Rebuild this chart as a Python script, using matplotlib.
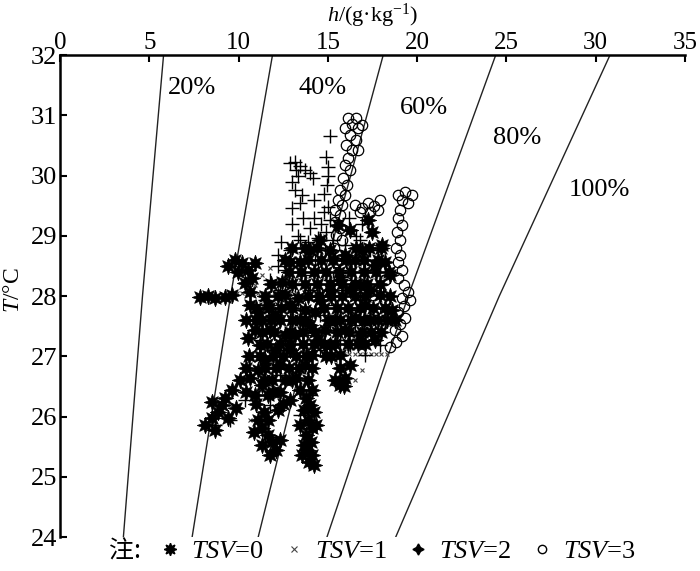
import matplotlib
matplotlib.use("Agg")
import matplotlib.pyplot as plt
from matplotlib.lines import Line2D

plt.rcParams['font.family'] = ['Liberation Serif', 'Noto Sans CJK SC']
plt.rcParams['mathtext.fontset'] = 'custom'
plt.rcParams['mathtext.rm'] = 'Liberation Serif'
plt.rcParams['mathtext.it'] = 'Liberation Serif:italic'

# relative humidity lines: h (g/kg) at T = 24, 28, 32 C
rh_T = [24, 28, 32]
rh_labels = ['20%', '40%', '60%', '80%', '100%']
rh_h = [
    [3.55, 4.62, 5.80],
    [7.40, 9.55, 11.90],
    [11.10, 14.45, 18.10],
    [14.95, 19.50, 24.40],
    [18.80, 24.60, 30.80],
]
rh_label_pos = [(7.4, 31.45), (14.7, 31.45), (20.4, 31.12), (25.6, 30.62), (30.2, 29.76)]

# TSV=0
h0 = [7.84, 8.29, 8.68, 9.24, 9.63,
      10.19, 9.97, 10.53, 10.36, 10.75, 10.64, 9.40, 9.80, 10.90,
      10.64, 11.09, 11.31, 10.92, 10.53, 11.20, 11.76, 12.04, 11.65, 12.32, 12.60, 12.04,
      11.48, 11.09, 10.64, 11.31, 10.92, 11.65, 11.87, 12.32, 12.88, 13.16, 13.44, 12.88,
      12.60, 13.33, 13.72, 14.00, 14.45, 14.11, 13.72, 13.21, 13.44, 12.88, 12.21,
      14.56, 15.12, 15.68, 16.24, 16.80, 17.36, 17.92, 17.08, 16.52, 15.96, 15.40, 14.84,
      14.28, 15.12, 15.68, 16.24, 15.96, 15.68, 17.36, 17.64, 16.80,
      14.56, 15.12, 15.96, 16.52, 16.91, 17.64, 18.20, 16.24, 15.57, 14.00, 13.44, 12.88,
      12.43, 17.47, 17.25, 18.03, 18.48, 18.59, 18.76,
      10.08, 9.63, 9.24, 9.07, 8.85, 8.51, 8.12, 8.68, 9.41, 9.85, 8.51,
      11.09, 11.31, 11.65, 11.87, 12.09, 11.76, 11.31, 10.86, 11.65, 12.32, 11.42,
      13.89, 14.11, 13.77, 14.00, 14.22, 13.89, 14.11, 13.77, 14.05, 13.83, 14.11, 13.94,
      13.66, 14.33, 13.66, 13.44, 13.55, 14.22,
      13.0, 13.7, 14.4, 16.6, 17.3, 18.0,
      12.6, 13.9, 14.6, 15.3, 16.0, 17.0, 17.8,
      12.8, 13.5, 14.2, 14.9, 15.6, 16.3, 17.0, 17.7, 18.4,
      11.8, 13.0, 13.7, 14.4, 15.1, 15.8, 16.5, 17.2, 17.9,
      11.5, 12.2, 13.9, 14.5, 15.2, 15.8, 16.5, 17.1, 18.5,
      11.0, 11.7, 12.4, 13.0, 14.8, 15.5, 16.1, 16.8, 17.5, 18.2,
      10.4, 11.0, 11.8, 13.0, 13.7, 15.0, 15.7, 16.3, 17.0, 17.8, 18.3,
      11.3, 12.0, 12.9, 13.6, 14.3, 15.5, 16.2, 16.9, 17.4, 18.0,
      11.6, 12.3, 12.9, 13.6, 14.2, 14.8, 15.4, 16.1, 16.7, 17.1,
      10.6, 11.2, 11.9, 12.5, 13.2, 13.8, 14.9, 15.2,
      10.4, 11.5, 12.1, 12.8, 13.4, 14.1, 15.7,
      11.4, 12.6, 13.0, 15.4, 15.9,
      10.4, 11.9, 12.3,
      11.0, 12.5]
t0 = [27.98, 28.00, 27.97, 27.98, 28.02,
      28.55, 28.40, 28.43, 28.22, 28.30, 28.07, 28.50, 28.60, 28.55,
      27.85, 27.73, 27.60, 27.44, 27.30, 27.19, 27.44, 27.68, 27.85, 27.60, 27.35, 27.10,
      26.94, 26.77, 26.64, 26.52, 26.36, 26.36, 26.61, 26.85, 27.10, 27.35, 27.60, 27.85,
      28.02, 27.97, 27.77, 27.52, 27.27, 27.02, 26.85, 26.64, 26.44, 26.27, 26.11,
      27.93, 28.10, 28.27, 28.10, 28.18, 28.10, 28.02, 27.85, 27.63, 27.44, 27.60, 27.44,
      27.73, 27.19, 27.02, 26.85, 26.64, 26.52, 27.60, 27.27, 27.35,
      28.93, 28.76, 28.68, 28.60, 28.76, 28.51, 28.56, 29.10, 29.18, 28.76, 28.56, 28.56,
      28.23, 29.06, 29.26, 28.85, 28.35, 27.77, 27.60,
      26.61, 26.44, 26.31, 26.19, 26.07, 25.98, 25.86, 25.78, 25.98, 26.14, 26.24,
      25.94, 25.81, 25.69, 25.58, 25.44, 25.36, 25.53, 25.74, 25.94, 25.61, 26.07,
      26.61, 26.44, 26.31, 26.19, 26.07, 25.94, 25.81, 25.69, 25.58, 25.44, 25.36, 25.24,
      25.53, 25.86, 26.11, 25.86, 25.36, 25.20,
      28.8, 28.8, 28.8, 28.8, 28.8, 28.8,
      28.6, 28.6, 28.6, 28.6, 28.6, 28.6, 28.6,
      28.4, 28.4, 28.4, 28.4, 28.4, 28.4, 28.4, 28.4, 28.4,
      28.2, 28.2, 28.2, 28.2, 28.2, 28.2, 28.2, 28.2, 28.2,
      28.0, 28.0, 28.0, 28.0, 28.0, 28.0, 28.0, 28.0, 28.0,
      27.8, 27.8, 27.8, 27.8, 27.8, 27.8, 27.8, 27.8, 27.8, 27.8,
      27.6, 27.6, 27.6, 27.6, 27.6, 27.6, 27.6, 27.6, 27.6, 27.6, 27.6,
      27.4, 27.4, 27.4, 27.4, 27.4, 27.4, 27.4, 27.4, 27.4, 27.4,
      27.2, 27.2, 27.2, 27.2, 27.2, 27.2, 27.2, 27.2, 27.2, 27.2,
      27.0, 27.0, 27.0, 27.0, 27.0, 27.0, 27.0, 27.0,
      26.8, 26.8, 26.8, 26.8, 26.8, 26.8, 26.8,
      26.6, 26.6, 26.6, 26.6, 26.5,
      26.4, 26.4, 26.4,
      26.2, 26.2]

# TSV=1
h1 = [9.90, 10.20, 10.50, 10.80, 11.10, 11.40, 11.70, 12.00, 12.30, 12.60, 12.90, 13.20,
      14.70, 15.00, 15.30, 15.60, 15.90, 16.20, 16.50, 16.80, 17.10, 17.40, 17.70, 18.00, 18.30,
      11.76, 11.31, 10.92, 15.12, 16.80, 15.96, 13.44, 14.56, 17.92, 17.36, 18.48,
      10.64, 9.52, 16.52, 16.91, 14.39, 14.84]
t1 = [28.05, 28.05, 28.05, 28.05, 28.05, 28.05, 28.05, 28.05, 28.05, 28.05, 28.05, 28.05,
      27.03, 27.03, 27.03, 27.03, 27.03, 27.03, 27.03, 27.03, 27.03, 27.03, 27.03, 27.03, 27.03,
      28.46, 28.35, 28.18, 27.93, 27.77, 27.60, 28.27, 28.43, 27.93, 27.44, 27.60,
      25.94, 26.19, 26.61, 26.77, 28.96, 28.99]

# TSV=2
h2 = [15.12, 13.16, 13.44, 13.72, 14.00, 13.33, 14.17, 15.01, 14.95, 13.16, 13.55, 12.99,
      13.44, 15.01, 15.12, 14.89, 15.29, 14.45, 14.00, 13.44, 12.88, 13.72, 14.28, 14.84,
      15.40, 15.96, 16.24, 15.68, 15.12, 14.45, 13.72, 13.16, 12.60, 12.32, 14.00, 14.67,
      15.96, 16.52, 16.80, 16.24, 15.40, 14.56, 13.44, 12.88, 17.08, 17.36, 16.80, 12.21,
      11.76, 11.48, 15.12, 15.68, 14.28, 16.52, 16.24, 14.56, 13.55, 12.60, 17.47, 17.92,
      17.08, 10.36, 8.68, 11.48, 14.00, 13.44, 12.32, 11.20, 11.76, 9.52, 11.76,
      13.0, 13.6, 14.2, 14.6, 13.3, 13.9, 14.8, 16.2, 16.6, 17.0, 12.4, 12.2, 16.9,
      14.2, 14.8, 15.0, 14.9, 13.0, 13.2, 12.9]
t2 = [30.66, 30.22, 30.16, 30.09, 30.04, 30.00, 29.96, 30.14, 29.84, 29.76, 29.68, 29.46,
      29.54, 29.48, 29.26, 29.06, 28.93, 28.96, 29.13, 28.93, 28.76, 28.73, 28.60, 28.76,
      28.63, 28.85, 28.56, 28.43, 28.27, 28.43, 28.35, 28.18, 28.43, 28.10, 28.10, 28.02,
      28.10, 28.27, 27.93, 27.77, 27.85, 27.68, 27.77, 27.60, 28.43, 28.76, 28.93, 28.68,
      28.27, 27.93, 27.52, 27.27, 27.35, 27.52, 27.19, 27.10, 27.44, 27.27, 27.35, 27.19,
      27.02, 26.27, 25.86, 25.53, 26.36, 26.02, 26.69, 27.27, 26.19, 25.94, 25.66,
      29.2, 29.3, 29.3, 29.2, 29.0, 28.9, 29.4, 29.3, 29.0, 28.6, 28.9, 28.5, 29.2,
      29.6, 29.7, 30.0, 30.3, 29.9, 30.1, 30.2]

# TSV=3
h3 = [16.13, 16.57, 16.35, 15.96, 16.69, 16.24, 16.57, 16.01, 16.35, 16.69, 16.13, 15.96,
      16.24, 15.85, 16.07, 15.68, 15.96, 15.57, 15.79, 15.40, 15.68, 15.40, 15.68, 15.45,
      15.79, 15.34, 15.68, 15.45, 15.90, 15.57, 16.01, 16.91,
      16.52, 16.91, 17.25, 17.58, 17.92, 17.81, 17.36, 16.80,
      18.92, 19.32, 19.71, 19.15, 19.48, 19.04, 18.92, 19.15, 18.87, 19.04, 18.81, 19.04,
      18.92, 19.15, 18.92, 19.26, 19.48, 19.15, 19.60, 19.26, 18.92, 19.32, 19.04, 18.76,
      19.15, 18.81, 18.48,
      18.20, 17.81, 18.20, 17.64, 18.37, 17.92, 17.47, 17.13]
t3 = [30.95, 30.95, 30.85, 30.79, 30.79, 30.67, 30.59, 30.51, 30.42, 30.42, 30.29, 30.17,
      30.09, 29.96, 29.84, 29.76, 29.68, 29.59, 29.51, 29.43, 29.34, 29.23, 29.13, 29.01,
      28.93, 28.80, 28.68, 28.56, 28.46, 28.35, 28.23, 30.84,
      29.51, 29.46, 29.54, 29.49, 29.59, 29.43, 29.39, 29.39,
      29.68, 29.73, 29.68, 29.59, 29.54, 29.43, 29.29, 29.18, 29.06, 28.93, 28.80, 28.68,
      28.56, 28.43, 28.30, 28.18, 28.07, 27.97, 27.93, 27.83, 27.73, 27.63, 27.54, 27.44,
      27.34, 27.24, 27.15,
      28.27, 28.10, 27.93, 27.77, 27.63, 27.52, 28.02, 27.60]

fig = plt.figure(figsize=(7, 5.71), dpi=100)
ax = fig.add_axes([0.0857, 0.0595, 0.8929, 0.8441])

for hs, lab, pos in zip(rh_h, rh_labels, rh_label_pos):
    ax.plot(hs, rh_T, color='#222222', lw=1.0, zorder=1)
    ax.text(pos[0], pos[1], lab, fontsize=19, ha='center', va='center')

ax.plot(h1, t1, ls='none', marker='x', ms=3.5, mew=0.8, color='#444444', zorder=2)
ax.plot(h0, t0, ls='none', marker=(8, 1, 0), ms=12, mew=0.5, color='black', zorder=3)
ax.plot(h2, t2, ls='none', marker='+', ms=10, mew=1.0, color='black', zorder=4)
ax.plot(h3, t3, ls='none', marker='o', ms=7.5, mew=0.9, mfc='none', mec='black', zorder=5)

ax.set_xlim(0, 35)
ax.set_ylim(24, 32)
ax.set_xticks(range(0, 36, 5))
ax.set_yticks(range(24, 33))
ax.xaxis.tick_top()
ax.xaxis.set_label_position('top')
for s in ['right', 'bottom']:
    ax.spines[s].set_visible(False)
for s in ['left', 'top']:
    ax.spines[s].set_linewidth(1.8)
ax.tick_params(axis='y', direction='in', length=5, width=1.5, labelsize=19, pad=2)
ax.tick_params(axis='x', direction='in', length=5, width=1.5, labelsize=18, pad=1)
ax.set_xlabel(r'$h$/(g·kg$^{-1}$)', fontsize=16)
ax.xaxis.set_label_coords(0.5, 1.07)
ax.set_ylabel(r'$T$/°C', fontsize=17)
ax.yaxis.set_label_coords(-0.058, 0.512)

handles = [
    Line2D([], [], ls='none', marker=(8, 1, 0), ms=9, color='black'),
    Line2D([], [], ls='none', marker='x', ms=5, mew=0.8, color='#444444'),
    Line2D([], [], ls='none', marker=(4, 1, 0), ms=8, color='black'),
    Line2D([], [], ls='none', marker='o', ms=6, mfc='none', mec='black'),
]
labels = [r'$\mathit{TSV}$=0', r'$\mathit{TSV}$=1', r'$\mathit{TSV}$=2', r'$\mathit{TSV}$=3']
fig.legend(handles, labels, loc='center', bbox_to_anchor=(0.566, 0.034), ncol=4,
           frameon=False, fontsize=19, handlelength=1.0, handletextpad=0.3,
           columnspacing=0.65)
fig.text(0.178, 0.034, '注:', fontsize=18, ha='center', va='center',
         family=['Noto Sans CJK SC'])

fig.savefig('out.png', dpi=100)
